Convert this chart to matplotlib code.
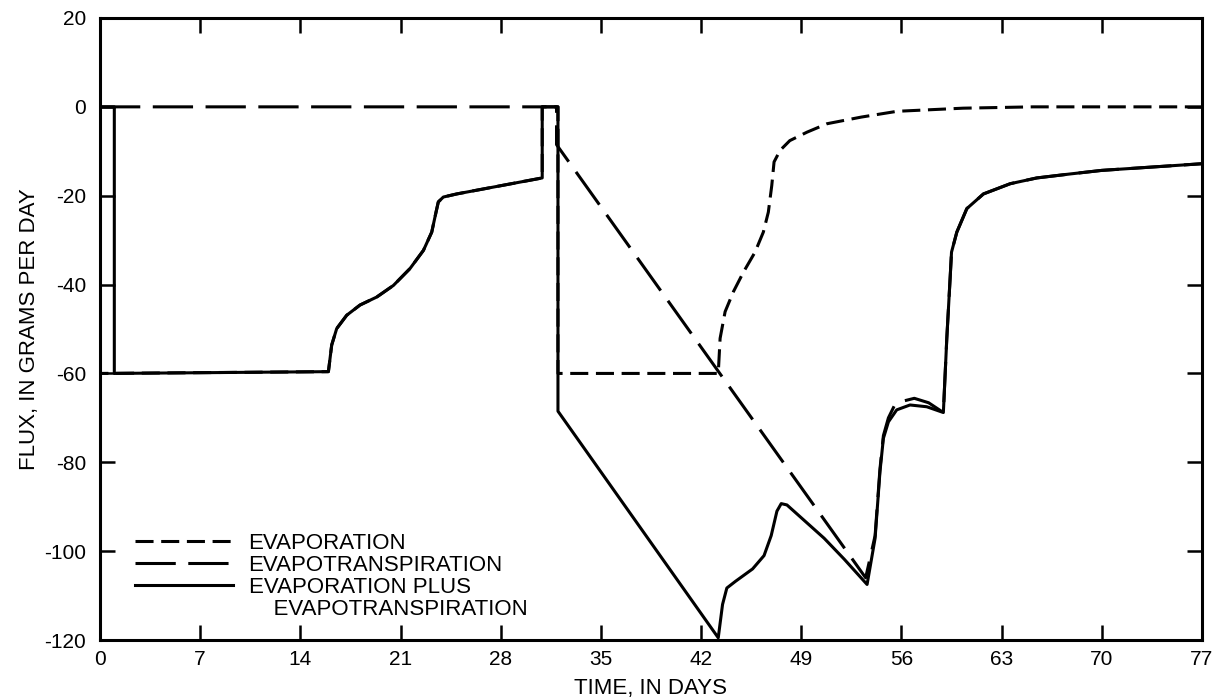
import numpy as np
import matplotlib
matplotlib.use("Agg")
from matplotlib import pyplot as plt
from matplotlib.lines import Line2D

plt.rcParams['font.family'] = ['Liberation Sans', 'DejaVu Sans']
plt.rcParams['lines.scale_dashes'] = False
plt.rcParams['axes.unicode_minus'] = False

# data (days, grams per day)
# evaporation plus evapotranspiration (solid)
sum_day = [0, 1, 1, 15.96, 16.19, 16.54, 17.24, 18.17, 19.34, 20.5, 21.66, 22.6, 23.18, 23.48,
           23.64, 23.99, 24.93, 30.9, 30.9, 32.0, 32.0, 43.2, 43.5, 43.8, 44.4, 45.6, 46.4,
           46.9, 47.3, 47.6, 48.0, 50.6, 52.0, 53.6, 54.16, 54.5, 54.74, 55.09, 55.67, 56.6,
           57.77, 58.93, 59.17, 59.4, 59.5, 59.87, 60.57, 61.73, 63.6, 65.46, 67.8, 70.0, 77.0]
sum_flux = [0, 0, -60, -59.6, -53.6, -49.9, -46.9, -44.6, -42.8, -40.2, -36.4, -32.3, -28.2, -23.7,
            -21.4, -20.3, -19.6, -16.0, 0, 0, -68.5, -119.5, -112.0, -108.3, -106.8, -104.0, -101.0,
            -96.5, -91.0, -89.3, -89.6, -97.1, -101.8, -107.5, -97.1, -82.1, -74.6, -70.9, -68.2, -67.1,
            -67.5, -68.8, -52.1, -38.7, -32.7, -28.2, -22.9, -19.6, -17.3, -16.0, -15.1, -14.3, -12.8]

# evaporation (short dash)
evap_day = [0, 0, 15.96, 16.19, 16.54, 17.24, 18.17, 19.34, 20.5, 21.66, 22.6, 23.18, 23.48,
            23.64, 23.99, 24.93, 30.9, 30.9, 32.0, 32.0, 43.2, 43.33, 43.68, 44.26, 44.96, 45.77,
            46.35, 46.7, 46.94, 47.1, 47.52, 48.2, 49.4, 50.8, 53.2, 55.7, 60.3, 65.2, 77.0]
evap_flux = [0, -60, -59.6, -53.6, -49.9, -46.9, -44.6, -42.8, -40.2, -36.4, -32.3, -28.2, -23.7,
             -21.4, -20.3, -19.6, -16.0, 0, 0, -60, -60, -52.1, -46.1, -41.6, -37.2, -32.7,
             -28.2, -23.7, -17.7, -12.4, -9.8, -7.6, -5.7, -3.8, -2.3, -1.0, -0.3, 0, 0]

# evapotranspiration (long dash)
et_day = [0, 31.9, 31.9, 53.5, 54.16, 54.5, 54.74, 55.09, 55.5, 55.9, 56.9, 57.9, 58.93, 59.17,
          59.4, 59.5, 59.87, 60.57, 61.73, 63.6, 65.46, 67.8, 70.0, 77.0]
et_flux = [0, 0, -8.5, -106.0, -96.5, -81.5, -74.0, -70.0, -67.3, -66.4, -65.6, -66.6, -68.8, -52.1,
           -38.7, -32.7, -28.2, -22.9, -19.6, -17.3, -16.0, -15.1, -14.3, -12.8]

xticks = np.arange(0, 78, 7)
yticks = np.arange(-120, 21, 20)

labels = ['EVAPORATION', 'EVAPOTRANSPIRATION', 'EVAPORATION PLUS', '    EVAPOTRANSPIRATION']

fig = plt.figure(figsize=(12.24, 7.0), dpi=100)
ax = fig.add_axes([0.0817, 0.0857, 0.9003, 0.8886])

lw = 2.2
ax.plot(sum_day, sum_flux, color='black', lw=lw, solid_joinstyle='round')
ax.plot(evap_day, evap_flux, color='black', lw=lw, dashes=(13, 5.5))
ax.plot(et_day, et_flux, color='black', lw=lw, dashes=(29, 9))

ax.set_xlim(0, 77)
ax.set_ylim(-120, 20)
ax.set_xticks(xticks)
ax.set_yticks(yticks)
ax.tick_params(direction='in', length=11, width=1.8, top=True, right=True,
               labelsize=15, color='black')
ax.tick_params(axis='y', pad=10)
ax.tick_params(axis='x', pad=7)
for s in ax.spines.values():
    s.set_linewidth(2.2)

ax.set_xlabel('TIME, IN DAYS', fontsize=16, labelpad=7)
ax.set_ylabel('FLUX, IN GRAMS PER DAY', fontsize=16, labelpad=3)

handles = [Line2D([], [], color='black', lw=lw, dashes=(13, 5.5)),
           Line2D([], [], color='black', lw=lw, dashes=(29, 9)),
           Line2D([], [], color='black', lw=lw),
           Line2D([], [], color='none', lw=lw)]
ax.legend(handles, labels, loc='upper left', bbox_to_anchor=(0.032, 0.172),
          frameon=False, fontsize=16, handlelength=4.4, handletextpad=0.7,
          labelspacing=0.04, borderpad=0, borderaxespad=0)

fig.savefig('out.png', dpi=100)
